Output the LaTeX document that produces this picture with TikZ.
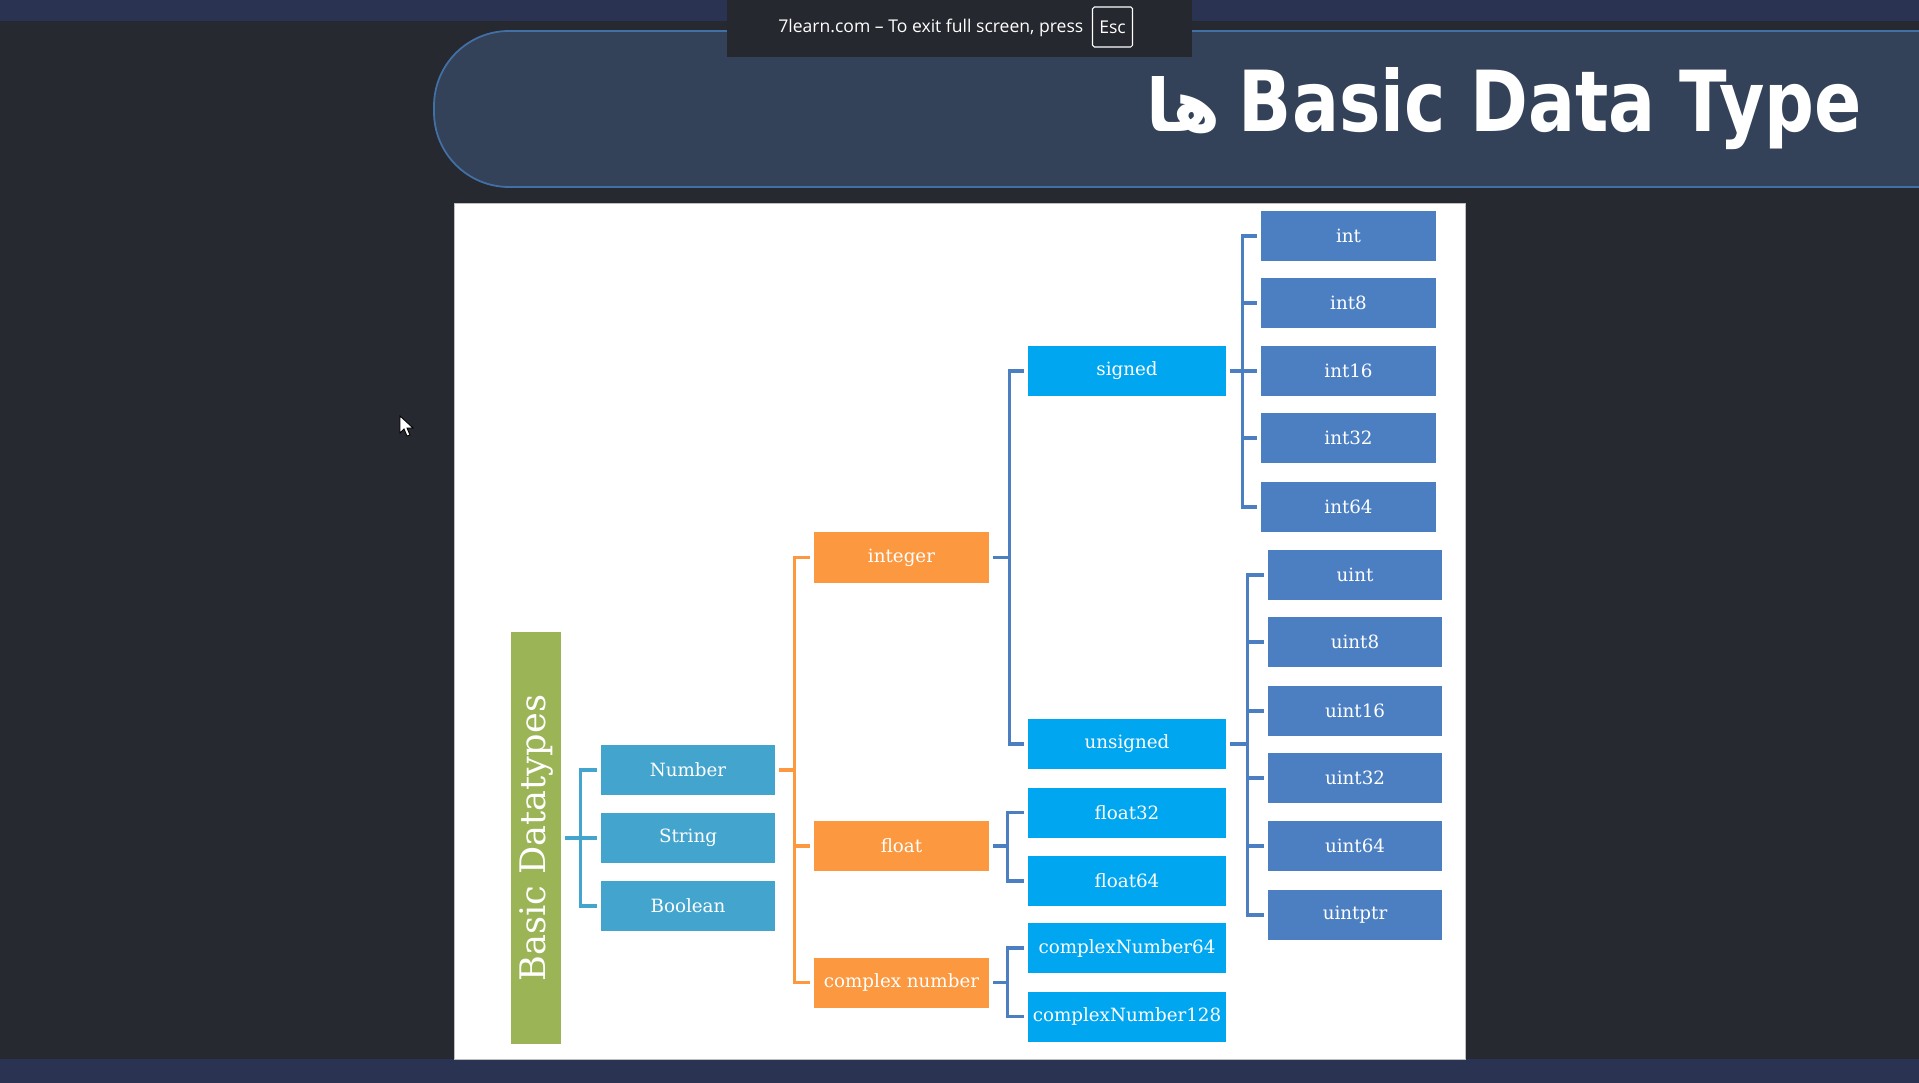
\documentclass[tikz,border=0pt]{standalone}
\usepackage{fontspec}
\setmainfont{DejaVu Serif}
\newfontfamily\titlefont{DejaVu Sans}
\newfontfamily\arabicfont[Script=Arabic]{DejaVu Sans}
\newfontfamily\uifont{Open Sans}
\TeXXeTstate=1
\definecolor{screenbg}{RGB}{38,41,48}
\definecolor{barblue}{RGB}{42,52,82}
\definecolor{popbg}{RGB}{37,40,46}
\definecolor{headfill}{RGB}{51,66,89}
\definecolor{headline}{RGB}{66,112,165}
\definecolor{basegreen}{RGB}{155,180,86}
\definecolor{typeblue}{RGB}{67,165,206}
\definecolor{kindorange}{RGB}{252,152,64}
\definecolor{subblue}{RGB}{0,166,240}
\definecolor{leafblue}{RGB}{75,127,194}
\begin{document}
\begin{tikzpicture}[x=0.2mm,y=-0.2mm,
	box/.style={rectangle,inner sep=0pt,minimum height=10mm,text=white,font=\fontsize{10.4}{12}\selectfont},
	typebox/.style={box,fill=typeblue,minimum width=34.8mm},
	kindbox/.style={box,fill=kindorange,minimum width=35mm},
	subbox/.style={box,fill=subblue,minimum width=39.6mm},
	intbox/.style={box,fill=leafblue,minimum width=35mm},
	uintbox/.style={box,fill=leafblue,minimum width=34.8mm},
	tline/.style={draw=typeblue,line width=2pt},
	oline/.style={draw=kindorange,line width=2pt},
	bline/.style={draw=leafblue,line width=2pt}]
	\useasboundingbox (0,0) rectangle (1919,1083);
	% screen
		\fill[screenbg] (0,0) rectangle (1919,1083);
		\fill[barblue] (0,0) rectangle (1919,21);
		\fill[barblue] (0,1059) rectangle (1919,1083);
	% header
		\draw[fill=headfill,draw=headline,line width=1pt,rounded corners=15mm] (1930,31) -- (434,31) -- (434,187) -- (1930,187);
		\node[anchor=base east,inner sep=0pt,text=white] (title) at (1862,132) {\resizebox{124.5mm}{12.8mm}{\titlefont\bfseries Basic Data Type}};
		\node[anchor=base east,inner sep=0pt,text=white] (titlefa) at (1221,132) {\resizebox{14.8mm}{11mm}{\arabicfont\bfseries\beginR ها\endR}};
	% full screen notice
		\fill[popbg] (727,0) rectangle (1192,57);
		\node[anchor=base west,inner sep=0pt,text=white,font=\uifont\fontsize{10}{12}\selectfont] (notice) at (778,33) {7learn.com – To exit full screen, press};
		\node[draw=white,rounded corners=1pt,line width=0.6pt,minimum width=8mm,minimum height=8mm,inner sep=0pt,text=white,font=\uifont\fontsize{10}{12}\selectfont] (esckey) at (1112.5,27) {Esc};
	% slide
		\draw[fill=white,draw=gray!50,line width=0.4pt] (454,203) rectangle (1465,1059);
		\node[fill=basegreen,rotate=90,minimum width=82.4mm,minimum height=10mm,inner sep=0pt,text=white,font=\fontsize{20}{24}\selectfont] (basic) at (536,838) {Basic Datatypes};
	% first level
		\node[typebox] (number) at (688,770) {Number};
		\node[typebox] (string) at (688,838) {String};
		\node[typebox] (boolean) at (688,906) {Boolean};
	% number kinds
		\node[kindbox] (integer) at (901.5,557.5) {integer};
		\node[kindbox] (float) at (901.5,846) {float};
		\node[kindbox] (complex) at (901.5,982.5) {complex number};
	% sub kinds
		\node[subbox] (signed) at (1127,371) {signed};
		\node[subbox] (unsigned) at (1127,744) {unsigned};
		\node[subbox] (float32) at (1127,812.5) {float32};
		\node[subbox] (float64) at (1127,881) {float64};
		\node[subbox] (cnum64) at (1127,948) {complexNumber64};
		\node[subbox] (cnum128) at (1127,1016.5) {complexNumber128};
	% signed types
		\node[intbox] (int) at (1348.5,236) {int};
		\node[intbox] (int8) at (1348.5,303) {int8};
		\node[intbox] (int16) at (1348.5,371) {int16};
		\node[intbox] (int32) at (1348.5,438) {int32};
		\node[intbox] (int64) at (1348.5,507) {int64};
	% unsigned types
		\node[uintbox] (uint) at (1355,575) {uint};
		\node[uintbox] (uint8) at (1355,642) {uint8};
		\node[uintbox] (uint16) at (1355,711) {uint16};
		\node[uintbox] (uint32) at (1355,778) {uint32};
		\node[uintbox] (uint64) at (1355,846) {uint64};
		\node[uintbox] (uintptr) at (1355,915) {uintptr};
	% connectors
		\draw[tline] (basic.south) ++(4,0) -- ++(15,0) |- ([xshift=-0.8mm]number.west);
		\draw[tline] (basic.south) ++(4,0) -- ++(15,0) |- ([xshift=-0.8mm]string.west);
		\draw[tline] (basic.south) ++(4,0) -- ++(15,0) |- ([xshift=-0.8mm]boolean.west);
		\draw[oline] (number.east) ++(4,0) -- ++(15,0) |- ([xshift=-0.8mm]integer.west);
		\draw[oline] (number.east) ++(4,0) -- ++(15,0) |- ([xshift=-0.8mm]float.west);
		\draw[oline] (number.east) ++(4,0) -- ++(15,0) |- ([xshift=-0.8mm]complex.west);
		\draw[bline] (integer.east) ++(4,0) -- ++(16,0) |- ([xshift=-0.8mm]signed.west);
		\draw[bline] (integer.east) ++(4,0) -- ++(16,0) |- ([xshift=-0.8mm]unsigned.west);
		\draw[bline] (float.east) ++(4,0) -- ++(14,0) |- ([xshift=-0.8mm]float32.west);
		\draw[bline] (float.east) ++(4,0) -- ++(14,0) |- ([xshift=-0.8mm]float64.west);
		\draw[bline] (complex.east) ++(4,0) -- ++(14,0) |- ([xshift=-0.8mm]cnum64.west);
		\draw[bline] (complex.east) ++(4,0) -- ++(14,0) |- ([xshift=-0.8mm]cnum128.west);
		\draw[bline] (signed.east) ++(4,0) -- ++(12,0) |- ([xshift=-0.8mm]int.west);
		\draw[bline] (signed.east) ++(4,0) -- ++(12,0) |- ([xshift=-0.8mm]int8.west);
		\draw[bline] (signed.east) ++(4,0) -- ++(12,0) |- ([xshift=-0.8mm]int16.west);
		\draw[bline] (signed.east) ++(4,0) -- ++(12,0) |- ([xshift=-0.8mm]int32.west);
		\draw[bline] (signed.east) ++(4,0) -- ++(12,0) |- ([xshift=-0.8mm]int64.west);
		\draw[bline] (unsigned.east) ++(4,0) -- ++(17,0) |- ([xshift=-0.8mm]uint.west);
		\draw[bline] (unsigned.east) ++(4,0) -- ++(17,0) |- ([xshift=-0.8mm]uint8.west);
		\draw[bline] (unsigned.east) ++(4,0) -- ++(17,0) |- ([xshift=-0.8mm]uint16.west);
		\draw[bline] (unsigned.east) ++(4,0) -- ++(17,0) |- ([xshift=-0.8mm]uint32.west);
		\draw[bline] (unsigned.east) ++(4,0) -- ++(17,0) |- ([xshift=-0.8mm]uint64.west);
		\draw[bline] (unsigned.east) ++(4,0) -- ++(17,0) |- ([xshift=-0.8mm]uintptr.west);
	% mouse pointer
		\draw[fill=white,draw=black,line width=0.5pt] (400,416) -- ++(0,17) -- ++(4,-4) -- ++(3,7) -- ++(3,-1) -- ++(-3,-7) -- ++(6,0) -- cycle;
\end{tikzpicture}
\end{document}
